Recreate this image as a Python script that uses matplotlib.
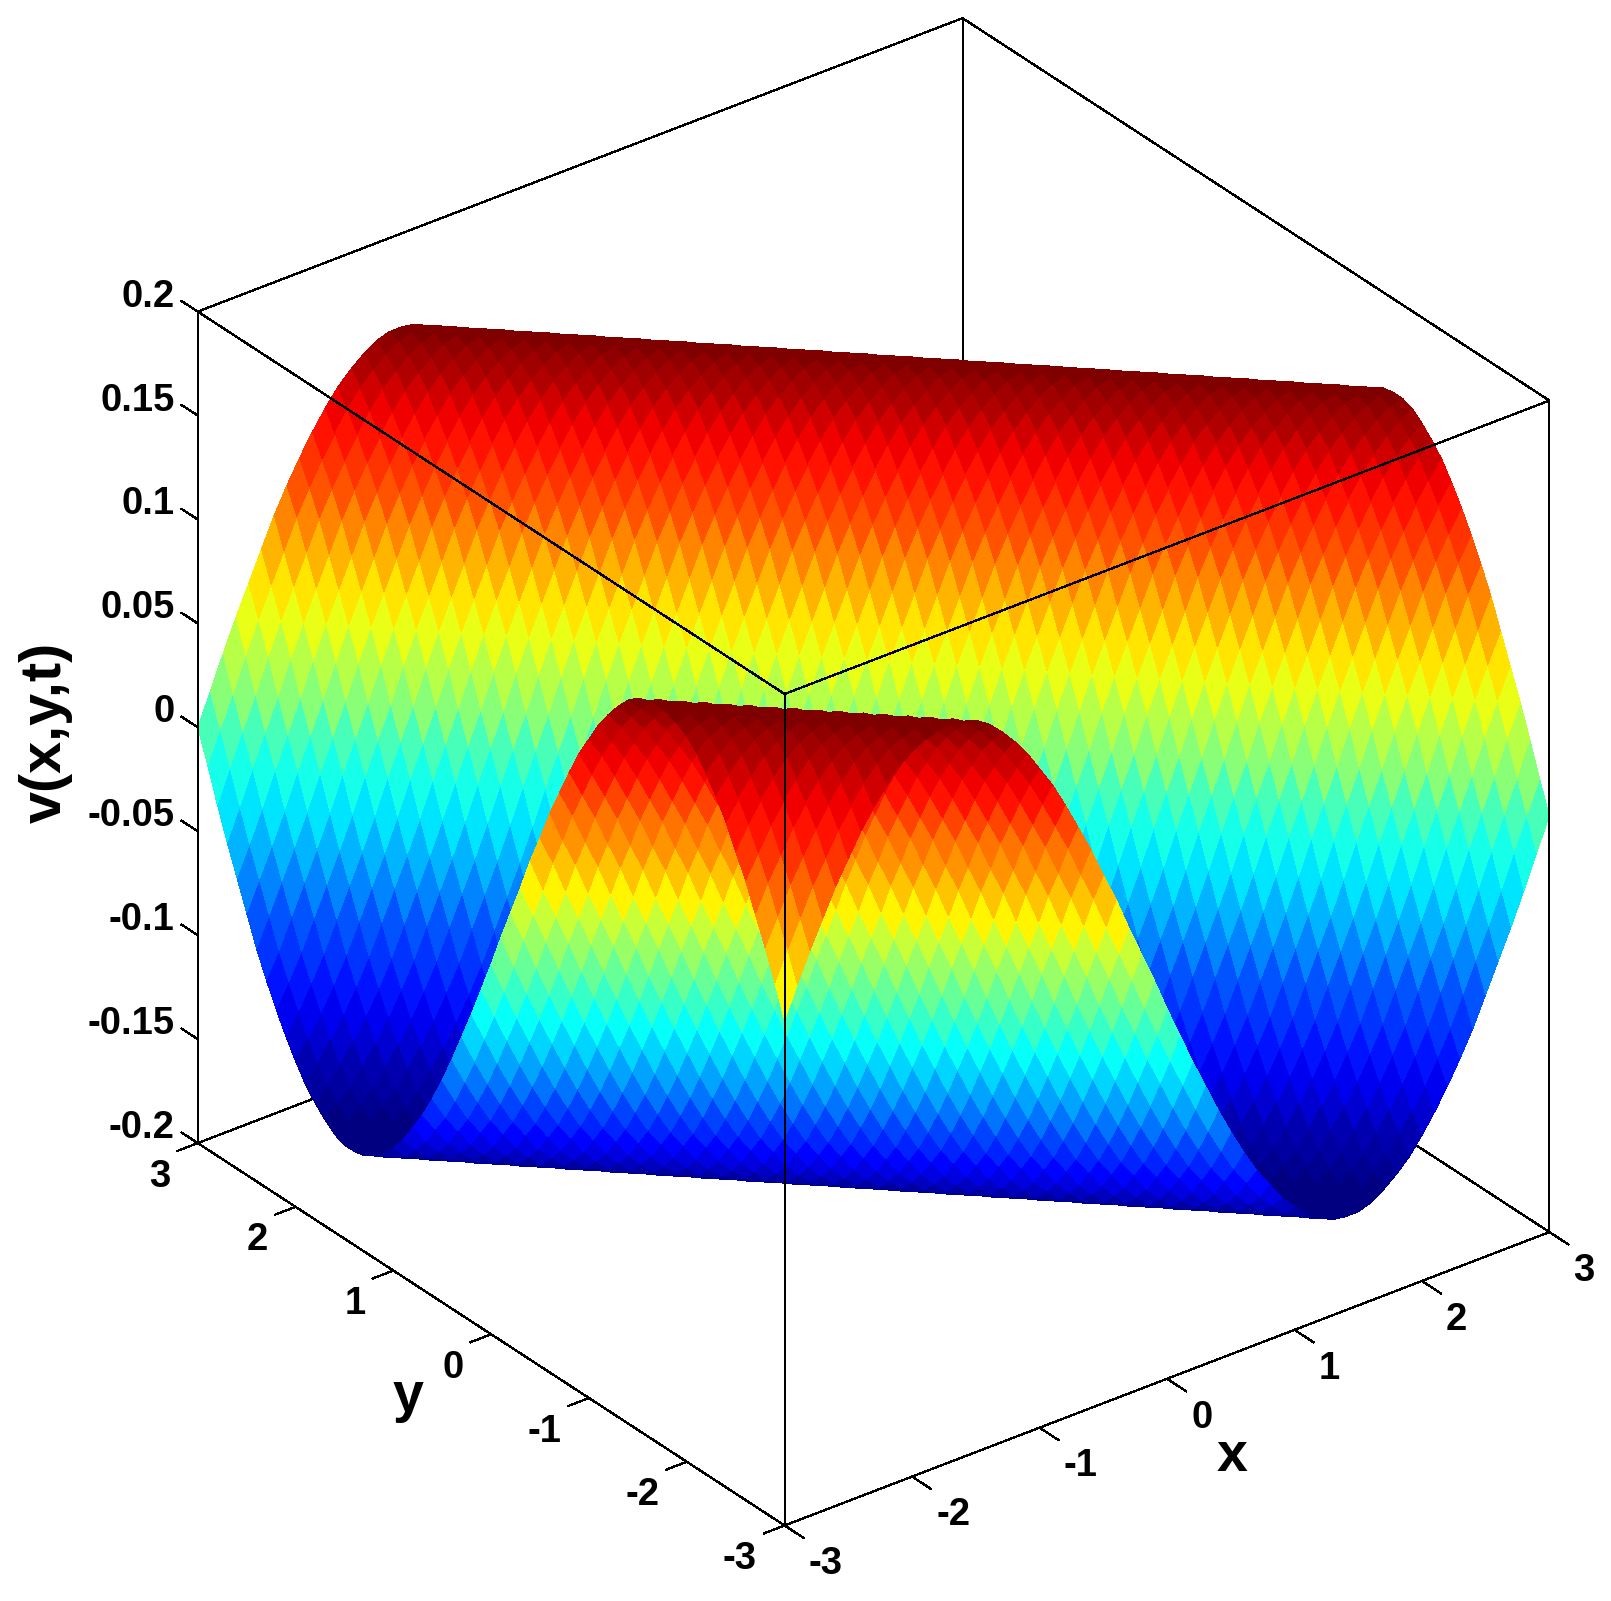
import numpy as np
import matplotlib
matplotlib.use("Agg")
import matplotlib.pyplot as plt
from matplotlib.colors import LinearSegmentedColormap, Normalize
from mpl_toolkits.mplot3d import proj3d

plt.rcParams["font.family"] = ["Liberation Sans", "DejaVu Sans"]
plt.rcParams["font.weight"] = "bold"

# grid -3:0.1:3 in both directions
x_grid = np.arange(-30, 31) / 10
y_grid = np.arange(-30, 31) / 10

# height read along the diagonal, one value per step of x+y, from x+y=-6 to x+y=6
wave = [
    0.043, 0.058, 0.072, 0.085, 0.098, 0.109, 0.120, 0.129, 0.137, 0.144,
    0.149, 0.152, 0.154, 0.155, 0.154, 0.152, 0.148, 0.142, 0.135, 0.127,
    0.117, 0.107, 0.095, 0.082, 0.069, 0.054, 0.040, 0.024, 0.009, -0.006,
    -0.022, -0.037, -0.052, -0.066, -0.080, -0.093, -0.105, -0.116, -0.125, -0.134,
    -0.141, -0.147, -0.151, -0.154, -0.155, -0.155, -0.153, -0.149, -0.144, -0.138,
    -0.130, -0.121, -0.111, -0.100, -0.088, -0.074, -0.060, -0.046, -0.031, -0.015,
    0.000, 0.015, 0.031, 0.046, 0.060, 0.074, 0.088, 0.100, 0.111, 0.121,
    0.130, 0.138, 0.144, 0.149, 0.153, 0.155, 0.155, 0.154, 0.151, 0.147,
    0.141, 0.134, 0.125, 0.116, 0.105, 0.093, 0.080, 0.066, 0.052, 0.037,
    0.022, 0.006, -0.009, -0.024, -0.040, -0.054, -0.069, -0.082, -0.095, -0.107,
    -0.117, -0.127, -0.135, -0.142, -0.148, -0.152, -0.154, -0.155, -0.154, -0.152,
    -0.149, -0.144, -0.137, -0.129, -0.120, -0.109, -0.098, -0.085, -0.072, -0.058,
    -0.043,
]
wave = np.array(wave)

xy_ticks = [-3, -2, -1, 0, 1, 2, 3]
xy_labels = ["-3", "-2", "-1", "0", "1", "2", "3"]
z_ticks = [-0.2, -0.15, -0.1, -0.05, 0, 0.05, 0.1, 0.15, 0.2]
z_labels = ["-0.2", "-0.15", "-0.1", "-0.05", "0", "0.05", "0.1", "0.15", "0.2"]

W, H = 1611, 1601
fig = plt.figure(figsize=(W / 100, H / 100), dpi=100, facecolor="white")

# square axes, bigger than the figure so nothing gets clipped
size = 1700
cx, cy = 850.6, 794.8
ax = fig.add_axes([(cx - size / 2) / W, (H - cy - size / 2) / H, size / W, size / H],
                  projection="3d", proj_type="ortho", computed_zorder=False)
ax.view_init(elev=30, azim=-127.5)
ax.set_box_aspect((1, 1, 0.996), zoom=0.9522)

X, Y = np.meshgrid(x_grid, y_grid)
idx = np.add.outer(np.arange(len(y_grid)), np.arange(len(x_grid)))
Z = wave[idx]

# matlab style jet, 64 levels
jet = LinearSegmentedColormap.from_list(
    "jet64",
    [(0, (0, 0, 0.5)), (1 / 8, (0, 0, 1)), (3 / 8, (0, 1, 1)),
     (5 / 8, (1, 1, 0)), (7 / 8, (1, 0, 0)), (1, (0.5, 0, 0))],
    N=64,
)
colors = jet(Normalize(-0.155, 0.155)(Z))
ax.plot_surface(X, Y, Z, facecolors=colors, rstride=1, cstride=1, shade=False,
                linewidth=0, antialiased=False, zorder=2)

ax.set_xlim(-3, 3, view_margin=0)
ax.set_ylim(-3, 3, view_margin=0)
ax.set_zlim(-0.2, 0.2, view_margin=0)
ax.set_axis_off()


def seg(xs, ys, zs, order, lw=0.9):
    ax.plot(xs, ys, zs, color="black", lw=lw, zorder=order, antialiased=False,
            solid_capstyle="butt")


def put_label(x, y, z, s, ha):
    px, py, _ = proj3d.proj_transform(x, y, z, ax.get_proj())
    ax.text2D(px, py, s, transform=ax.transData, ha=ha, va="center", fontsize=27.5, zorder=4)


# box, back part goes behind the surface
zb, zt = -0.2, 0.2
seg([3, 3], [3, 3], [zb, zt], 1, 1.4)
seg([-3, 3], [3, 3], [zb, zb], 1)
seg([3, 3], [-3, 3], [zb, zb], 1)
seg([-3, 3], [3, 3], [zt, zt], 1)
seg([3, 3], [-3, 3], [zt, zt], 1)
# front part on top of it
seg([-3, -3], [-3, -3], [zb, zt], 3, 1.4)
seg([-3, -3], [3, 3], [zb, zt], 3, 1.4)
seg([3, 3], [-3, -3], [zb, zt], 3, 1.4)
seg([-3, 3], [-3, -3], [zb, zb], 3)
seg([-3, -3], [-3, 3], [zb, zb], 3)
seg([-3, 3], [-3, -3], [zt, zt], 3)
seg([-3, -3], [-3, 3], [zt, zt], 3)

for t, s in zip(xy_ticks, xy_labels):
    seg([t, t], [-3, -3.2], [zb, zb], 3)
    put_label(t - 0.175, -3.474, zb, s, "left")
    seg([-3, -3.167], [t, t], [zb, zb], 3)
    put_label(-3.39, t - 0.226, zb, s, "right")
for t, s in zip(z_ticks, z_labels):
    seg([-3, -3], [3, 3.17], [t, t], 3)
    put_label(-3, 3.235, t, s, "right")

fig.text(1232 / W, 1 - 1457 / H, "x", ha="center", va="center", fontsize=40)
fig.text(408 / W, 1 - 1397 / H, "y", ha="center", va="center", fontsize=40)
fig.text(46 / W, 1 - 732 / H, "v(x,y,t)", ha="center", va="center", fontsize=41.5, rotation=90)

fig.savefig("out.png", dpi=100)
